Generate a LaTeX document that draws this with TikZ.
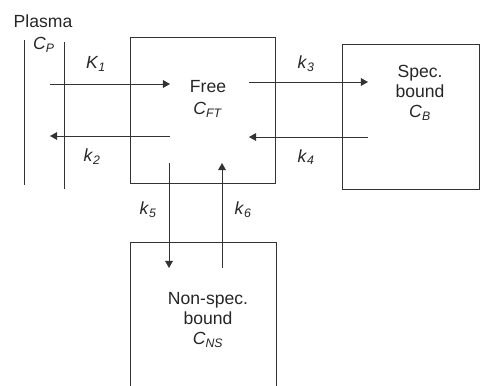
\documentclass[tikz,border=0pt]{standalone}
\usepackage{fontspec}
\setmainfont{Liberation Sans}
\usepackage{tikz}
\usetikzlibrary{arrows.meta,positioning}
\newcommand{\kin}[2]{\textit{#1}\textsubscript{\textit{#2}}}
\tikzset{
  comp/.style={draw=black!80,line width=0.85pt,inner sep=0pt},
  txt/.style={text=black!85,font=\fontsize{15}{17}\selectfont,align=center,inner sep=0pt},
  arr/.style={-{Triangle[length=6pt,width=6.5pt]},draw=black!80,line width=0.85pt},
  wall/.style={draw=black!80,line width=0.85pt},
}
\begin{document}
\begin{tikzpicture}[x=0.03cm,y=-0.03cm]
\clip (0,0) rectangle (481,385);
% compartments
\node[comp,minimum width=4.35cm,minimum height=4.38cm] (free) at (202.5,110) {};
\node[comp,minimum width=4.11cm,minimum height=4.35cm] (spec) at (410.5,116.5) {};
\node[comp,minimum width=4.38cm,minimum height=4.8cm] (nons) at (203,322) {};
\node[txt] (freetxt) at (208,99) {Free\\[2pt]\kin{C}{FT}};
\node[txt] (spectxt) at (420,93) {Spec.\\bound\\\kin{C}{B}};
\node[txt] (nonstxt) at (208,320) {Non-spec.\\bound\\\kin{C}{NS}};
% plasma
\node[txt] (plasma) at (43,21) {Plasma};
\node[txt] (cp) at (44,45) {\kin{C}{P}};
\coordinate (w1a) at (24,40);  \coordinate (w1b) at (24,185);
\coordinate (w2a) at (64,42);  \coordinate (w2b) at (64,189);
\draw[wall] (w1a) -- (w1b);
\draw[wall] (w2a) -- (w2b);
% rate arrows
\coordinate (p1) at (50,84);   \coordinate (f1) at (170,84);
\coordinate (p2) at (50,136);  \coordinate (f2) at (170,136);
\coordinate (f3) at (249,82);  \coordinate (s3) at (368,82);
\coordinate (f4) at (249,137); \coordinate (s4) at (368,137);
\coordinate (f5) at (169,163); \coordinate (n5) at (169,268);
\coordinate (f6) at (222,163); \coordinate (n6) at (222,268);
\draw[arr] (p1) -- (f1);
\draw[arr] (f2) -- (p2);
\draw[arr] (f3) -- (s3);
\draw[arr] (s4) -- (f4);
\draw[arr] (f5) -- (n5);
\draw[arr] (n6) -- (f6);
\node[txt] (k1) at (96,64) {\kin{K}{1}};
\node[txt] (k2) at (92,157) {\kin{k}{2}};
\node[txt] (k3) at (306,64) {\kin{k}{3}};
\node[txt] (k4) at (306,157) {\kin{k}{4}};
\node[txt] (k5) at (148,210) {\kin{k}{5}};
\node[txt] (k6) at (243,210) {\kin{k}{6}};
\end{tikzpicture}
\end{document}
